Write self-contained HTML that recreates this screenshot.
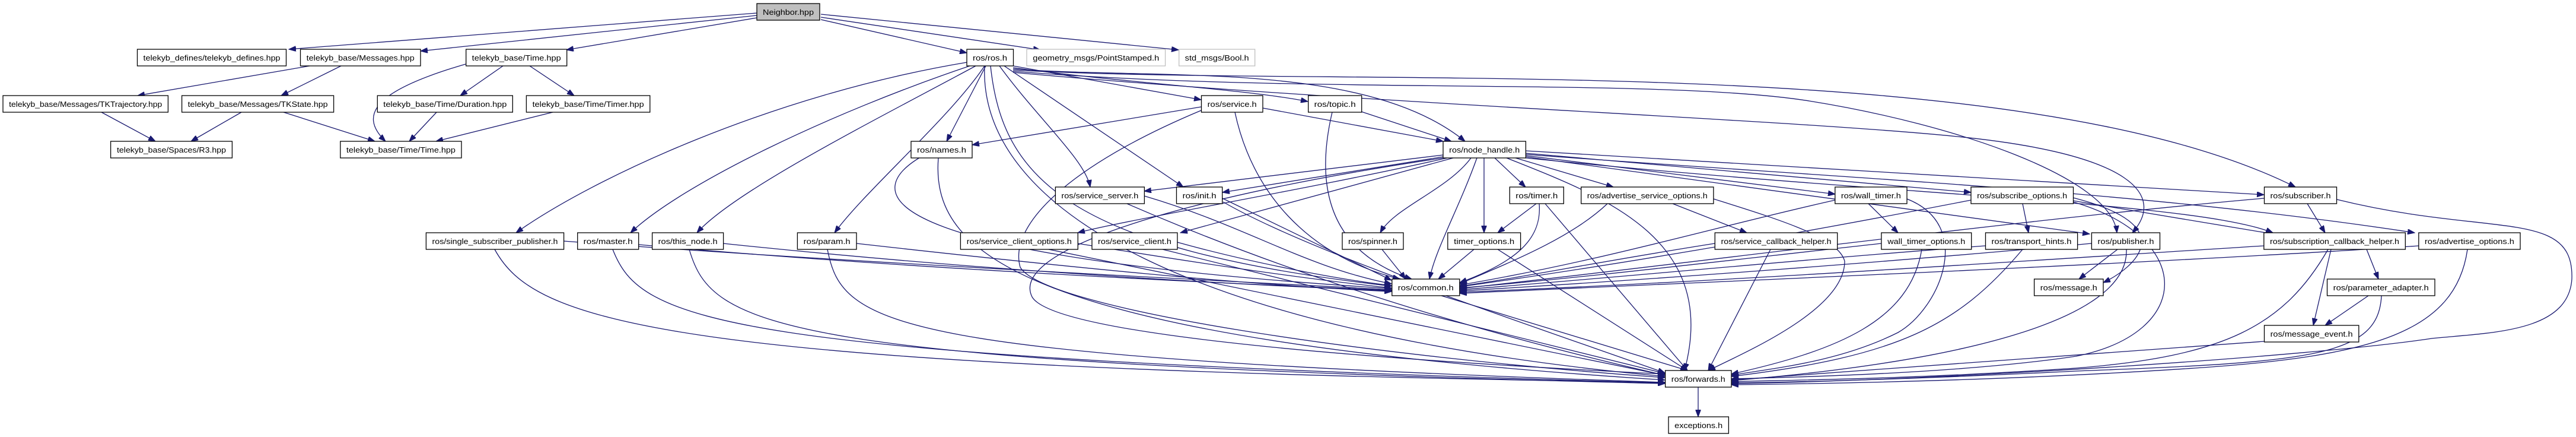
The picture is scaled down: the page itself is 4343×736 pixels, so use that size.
<!DOCTYPE html>
<html><head><meta charset="utf-8"><style>
html,body{margin:0;padding:0;background:#fff;}
svg{display:block;}
text{font-family:"Liberation Sans",sans-serif;font-size:13px;fill:#000;}
.n{fill:#fff;stroke:#000;stroke-width:1.3;}
.g{fill:#fff;stroke:#bfbfbf;stroke-width:1.3;}
.e{fill:none;stroke:#191970;stroke-width:1.3;marker-end:url(#a);}
</style></head><body>
<svg width="4343" height="736" viewBox="0 0 4343 736" xmlns="http://www.w3.org/2000/svg">
<defs><marker id="a" markerUnits="userSpaceOnUse" markerWidth="13" markerHeight="9" refX="12" refY="4.5" orient="auto"><path d="M0,0 L12,4.5 L0,9 z" fill="#191970" stroke="#191970"/></marker></defs>
<g>
<!-- Neighbor edges -->
<path class="e" d="M1276,22 L487,83"/>
<path class="e" d="M1276,26 L709,86"/>
<path class="e" d="M1276,30 L955,84"/>
<path class="e" d="M1384,33 L1630,89"/>
<path class="e" d="M1384,29 L1754,84"/>
<path class="e" d="M1384,24 L1987,84"/>
<!-- telekyb -->
<path class="e" d="M522,111 L232,161"/>
<path class="e" d="M575,111 L474,161"/>
<path class="e" d="M785,108 C640,150 600,190 650,238"/>
<path class="e" d="M848,111 L776,161"/>
<path class="e" d="M893,111 L968,161"/>
<path class="e" d="M171,189 L262,238"/>
<path class="e" d="M407,189 L322,238"/>
<path class="e" d="M478,189 L632,238"/>
<path class="e" d="M736,189 L690,238"/>
<path class="e" d="M932,189 L735,238"/>
<!-- ros.h -->
<path class="e" d="M1630,105 C1300,160 1000,300 870,392"/>
<path class="e" d="M1635,111 C1400,190 1150,310 1063,392"/>
<path class="e" d="M1645,111 C1480,200 1240,320 1175,392"/>
<path class="e" d="M1660,111 C1600,200 1460,320 1407,392"/>
<path class="e" d="M1662,111 L1596,238"/>
<path class="e" d="M1670,111 C1690,300 1800,420 2346,482"/>
<path class="e" d="M1685,111 C1750,200 1830,270 1838,315"/>
<path class="e" d="M1693,111 L1995,315"/>
<path class="e" d="M1708,111 L2025,168"/>
<path class="e" d="M1708,114 C1900,140 2100,150 2205,171"/>
<path class="e" d="M1708,116 C1950,135 2300,100 2470,238"/>
<path class="e" d="M1708,118 C2300,150 3400,80 3870,315"/>
<path class="e" d="M1708,120 C2200,160 2800,130 3050,170 C3300,210 3560,300 3569,392"/>
<path class="e" d="M1708,122 C2300,175 3000,200 3300,230 C3600,260 3650,330 3595,392"/>
<path class="e" d="M1660,111 C1650,350 2000,560 2807,634"/>
<!-- service, topic, names -->
<path class="e" d="M2025,180 L1639,244"/>
<path class="e" d="M2129,182 L2433,238"/>
<path class="e" d="M2082,189 C2110,320 2200,430 2360,470"/>
<path class="e" d="M2025,186 C1800,280 1700,380 1720,450 C1760,520 2300,600 2807,636"/>
<path class="e" d="M2295,188 L2447,238"/>
<path class="e" d="M2246,189 C2220,300 2230,420 2380,470"/>
<path class="e" d="M1560,260 C1450,320 1440,430 2346,486"/>
<path class="e" d="M1582,266 C1570,420 1700,570 2807,640"/>
<!-- node_handle -->
<path class="e" d="M2433,261 L1929,322"/>
<path class="e" d="M2433,264 L2061,324"/>
<path class="e" d="M2520,266 L2572,315"/>
<path class="e" d="M2555,266 L2720,315"/>
<path class="e" d="M2572,262 L3094,327"/>
<path class="e" d="M2572,258 L3323,324"/>
<path class="e" d="M2572,254 L3817,328"/>
<path class="e" d="M2572,260 C3100,300 3600,320 4071,392"/>
<path class="e" d="M2572,264 L3523,394"/>
<path class="e" d="M2572,266 C3200,330 3700,340 3832,392"/>
<path class="e" d="M2480,266 C2440,320 2350,350 2327,392"/>
<path class="e" d="M2502,266 L2502,392"/>
<path class="e" d="M2490,266 C2460,350 2420,420 2410,470"/>
<path class="e" d="M2440,266 C2200,320 1900,370 1817,392"/>
<path class="e" d="M2450,266 L1990,392"/>
<path class="e" d="M2540,266 C2700,330 2900,400 2840,624"/>
<path class="e" d="M2433,266 C2000,330 1700,420 1740,500 C1780,570 2400,610 2807,630"/>
<!-- row5 -->
<path class="e" d="M2590,343 L2525,392"/>
<path class="e" d="M2595,343 C2600,400 2560,440 2461,476"/>
<path class="e" d="M2605,343 L2845,624"/>
<path class="e" d="M2710,343 C2650,400 2550,440 2461,478"/>
<path class="e" d="M2820,343 L2945,392"/>
<path class="e" d="M2889,335 C3000,370 3100,400 3110,440 C3110,520 2950,590 2880,624"/>
<path class="e" d="M3150,343 L3200,392"/>
<path class="e" d="M3094,337 C2900,380 2700,440 2461,480"/>
<path class="e" d="M3215,335 C3330,380 3270,520 3200,560 C3100,610 2990,620 2919,632"/>
<path class="e" d="M3410,343 L3420,392"/>
<path class="e" d="M3323,337 C3000,400 2700,450 2461,483"/>
<path class="e" d="M3495,333 C3680,380 3600,450 3546,476"/>
<path class="e" d="M3495,338 L3832,394"/>
<path class="e" d="M3495,340 C3700,400 3700,560 3500,600 C3300,630 3000,636 2919,638"/>
<path class="e" d="M3890,343 L3920,392"/>
<path class="e" d="M3817,334 C3400,370 2800,450 2461,486"/>
<path class="e" d="M3940,336 C4200,400 4340,350 4336,470 C4330,560 4200,560 4100,570 C3900,600 3300,640 2919,646"/>
<path class="e" d="M2061,334 L2346,472"/>
<path class="e" d="M2062,340 C2200,420 2500,520 2807,628"/>
<path class="e" d="M1929,330 C2100,380 2200,450 2346,478"/>
<path class="e" d="M1900,343 C2100,430 2400,540 2807,632"/>
<!-- row6 -->
<path class="e" d="M950,406 C1400,440 2000,470 2346,488"/>
<path class="e" d="M834,420 C900,540 1100,620 2807,644"/>
<path class="e" d="M1077,412 C1500,450 2000,475 2346,489"/>
<path class="e" d="M1033,420 C1080,540 1200,600 2807,645"/>
<path class="e" d="M1219,410 C1600,450 2000,476 2346,490"/>
<path class="e" d="M1162,420 C1200,550 1300,610 2807,646"/>
<path class="e" d="M1444,410 C1800,450 2100,480 2346,491"/>
<path class="e" d="M1395,420 C1420,550 1500,600 2807,644"/>
<path class="e" d="M1817,410 C2000,440 2200,470 2346,485"/>
<path class="e" d="M1768,420 L2807,632"/>
<path class="e" d="M1985,408 C2100,440 2250,470 2346,481"/>
<path class="e" d="M1960,420 L2807,629"/>
<path class="e" d="M2330,420 L2370,470"/>
<path class="e" d="M2485,420 L2425,470"/>
<path class="e" d="M2525,420 L2845,624"/>
<path class="e" d="M2891,410 C2700,440 2550,470 2461,482"/>
<path class="e" d="M2985,420 L2880,624"/>
<path class="e" d="M3172,410 C2900,440 2650,470 2461,485"/>
<path class="e" d="M3240,420 C3220,540 3100,590 2919,630"/>
<path class="e" d="M3347,414 C3000,440 2700,470 2461,488"/>
<path class="e" d="M3410,420 C3300,550 3200,600 2919,634"/>
<path class="e" d="M3526,410 C3200,440 2800,470 2461,490"/>
<path class="e" d="M3570,420 L3505,470"/>
<path class="e" d="M3585,420 C3590,540 3300,610 2919,641"/>
<path class="e" d="M3817,414 C3400,440 2900,475 2461,492"/>
<path class="e" d="M3990,420 L4010,470"/>
<path class="e" d="M3930,420 L3900,548"/>
<path class="e" d="M3925,420 C3850,550 3750,600 3500,620 C3200,640 3000,640 2919,643"/>
<path class="e" d="M4078,414 C3700,440 3000,470 2461,494"/>
<path class="e" d="M4160,420 C4140,560 4000,600 3700,620 C3400,640 3100,646 2919,648"/>
<!-- lower -->
<path class="e" d="M3993,498 L3920,548"/>
<path class="e" d="M4015,498 C4010,600 3900,610 3500,625 C3200,640 3000,644 2919,645"/>
<path class="e" d="M3817,575 L2919,640"/>
<path class="e" d="M2430,498 L2845,624"/>
<path class="e" d="M2863,652 L2863,702"/>
</g>
<g>
<rect x="1276" y="6" width="106" height="28" fill="#bfbfbf" stroke="#000" stroke-width="1.3"/>
<text x="1329" y="25" text-anchor="middle" textLength="86" lengthAdjust="spacingAndGlyphs">Neighbor.hpp</text>

<rect class="n" x="231.5" y="83" width="251" height="28"/><text x="357" y="102" text-anchor="middle" textLength="231" lengthAdjust="spacingAndGlyphs">telekyb_defines/telekyb_defines.hpp</text>
<rect class="n" x="506.5" y="83" width="202.5" height="28"/><text x="607.7" y="102" text-anchor="middle" textLength="182" lengthAdjust="spacingAndGlyphs">telekyb_base/Messages.hpp</text>
<rect class="n" x="785.7" y="83" width="170" height="28"/><text x="870.7" y="102" text-anchor="middle" textLength="150" lengthAdjust="spacingAndGlyphs">telekyb_base/Time.hpp</text>
<rect class="n" x="1630" y="83" width="78.5" height="28"/><text x="1669" y="102" text-anchor="middle" textLength="58" lengthAdjust="spacingAndGlyphs">ros/ros.h</text>
<rect class="g" x="1731" y="83" width="233.6" height="28"/><text x="1847.8" y="102" text-anchor="middle" textLength="213" lengthAdjust="spacingAndGlyphs">geometry_msgs/PointStamped.h</text>
<rect class="g" x="1987.7" y="83" width="128" height="28"/><text x="2051.7" y="102" text-anchor="middle" textLength="108" lengthAdjust="spacingAndGlyphs">std_msgs/Bool.h</text>

<rect class="n" x="5" y="161" width="278.4" height="28"/><text x="144.2" y="180" text-anchor="middle" textLength="258" lengthAdjust="spacingAndGlyphs">telekyb_base/Messages/TKTrajectory.hpp</text>
<rect class="n" x="306.6" y="161" width="256" height="28"/><text x="434.6" y="180" text-anchor="middle" textLength="236" lengthAdjust="spacingAndGlyphs">telekyb_base/Messages/TKState.hpp</text>
<rect class="n" x="636.3" y="161" width="228" height="28"/><text x="750.3" y="180" text-anchor="middle" textLength="208" lengthAdjust="spacingAndGlyphs">telekyb_base/Time/Duration.hpp</text>
<rect class="n" x="887.4" y="161" width="208.4" height="28"/><text x="991.6" y="180" text-anchor="middle" textLength="188" lengthAdjust="spacingAndGlyphs">telekyb_base/Time/Timer.hpp</text>
<rect class="n" x="2025.5" y="161" width="103.5" height="28"/><text x="2077.2" y="180" text-anchor="middle" textLength="83" lengthAdjust="spacingAndGlyphs">ros/service.h</text>
<rect class="n" x="2205.7" y="161" width="90" height="28"/><text x="2250.7" y="180" text-anchor="middle" textLength="70" lengthAdjust="spacingAndGlyphs">ros/topic.h</text>

<rect class="n" x="186.6" y="238" width="204.8" height="28"/><text x="289" y="257" text-anchor="middle" textLength="184" lengthAdjust="spacingAndGlyphs">telekyb_base/Spaces/R3.hpp</text>
<rect class="n" x="573.8" y="238" width="204.2" height="28"/><text x="675.9" y="257" text-anchor="middle" textLength="184" lengthAdjust="spacingAndGlyphs">telekyb_base/Time/Time.hpp</text>
<rect class="n" x="1536" y="238" width="103" height="28"/><text x="1587.5" y="257" text-anchor="middle" textLength="83" lengthAdjust="spacingAndGlyphs">ros/names.h</text>
<rect class="n" x="2433" y="238" width="139.4" height="28"/><text x="2502.7" y="257" text-anchor="middle" textLength="119" lengthAdjust="spacingAndGlyphs">ros/node_handle.h</text>

<rect class="n" x="1779.4" y="315" width="150" height="28"/><text x="1854.4" y="334" text-anchor="middle" textLength="130" lengthAdjust="spacingAndGlyphs">ros/service_server.h</text>
<rect class="n" x="1983.5" y="315" width="77.2" height="28"/><text x="2022.1" y="334" text-anchor="middle" textLength="57" lengthAdjust="spacingAndGlyphs">ros/init.h</text>
<rect class="n" x="2545.3" y="315" width="91" height="28"/><text x="2590.8" y="334" text-anchor="middle" textLength="71" lengthAdjust="spacingAndGlyphs">ros/timer.h</text>
<rect class="n" x="2665.7" y="315" width="223.2" height="28"/><text x="2777.3" y="334" text-anchor="middle" textLength="203" lengthAdjust="spacingAndGlyphs">ros/advertise_service_options.h</text>
<rect class="n" x="3093.8" y="315" width="121.2" height="28"/><text x="3154.4" y="334" text-anchor="middle" textLength="101" lengthAdjust="spacingAndGlyphs">ros/wall_timer.h</text>
<rect class="n" x="3323" y="315" width="172.5" height="28"/><text x="3409.2" y="334" text-anchor="middle" textLength="152" lengthAdjust="spacingAndGlyphs">ros/subscribe_options.h</text>
<rect class="n" x="3817.5" y="315" width="122" height="28"/><text x="3878.5" y="334" text-anchor="middle" textLength="102" lengthAdjust="spacingAndGlyphs">ros/subscriber.h</text>

<rect class="n" x="718.4" y="392" width="232.2" height="28"/><text x="834.5" y="411" text-anchor="middle" textLength="212" lengthAdjust="spacingAndGlyphs">ros/single_subscriber_publisher.h</text>
<rect class="n" x="973.7" y="392" width="103" height="28"/><text x="1025.2" y="411" text-anchor="middle" textLength="83" lengthAdjust="spacingAndGlyphs">ros/master.h</text>
<rect class="n" x="1099.6" y="392" width="120" height="28"/><text x="1159.6" y="411" text-anchor="middle" textLength="100" lengthAdjust="spacingAndGlyphs">ros/this_node.h</text>
<rect class="n" x="1344.4" y="392" width="99.6" height="28"/><text x="1394.2" y="411" text-anchor="middle" textLength="79" lengthAdjust="spacingAndGlyphs">ros/param.h</text>
<rect class="n" x="1619.4" y="392" width="197.9" height="28"/><text x="1718.3" y="411" text-anchor="middle" textLength="177" lengthAdjust="spacingAndGlyphs">ros/service_client_options.h</text>
<rect class="n" x="1841" y="392" width="144" height="28"/><text x="1913" y="411" text-anchor="middle" textLength="124" lengthAdjust="spacingAndGlyphs">ros/service_client.h</text>
<rect class="n" x="2263" y="392" width="103" height="28"/><text x="2314.5" y="411" text-anchor="middle" textLength="83" lengthAdjust="spacingAndGlyphs">ros/spinner.h</text>
<rect class="n" x="2440.8" y="392" width="122.8" height="28"/><text x="2502.2" y="411" text-anchor="middle" textLength="102" lengthAdjust="spacingAndGlyphs">timer_options.h</text>
<rect class="n" x="2891.3" y="392" width="206.4" height="28"/><text x="2994.5" y="411" text-anchor="middle" textLength="186" lengthAdjust="spacingAndGlyphs">ros/service_callback_helper.h</text>
<rect class="n" x="3171.9" y="392" width="151.8" height="28"/><text x="3247.8" y="411" text-anchor="middle" textLength="131" lengthAdjust="spacingAndGlyphs">wall_timer_options.h</text>
<rect class="n" x="3347.5" y="392" width="155.1" height="28"/><text x="3425" y="411" text-anchor="middle" textLength="135" lengthAdjust="spacingAndGlyphs">ros/transport_hints.h</text>
<rect class="n" x="3526.4" y="392" width="115.1" height="28"/><text x="3584" y="411" text-anchor="middle" textLength="95" lengthAdjust="spacingAndGlyphs">ros/publisher.h</text>
<rect class="n" x="3816.8" y="392" width="238.5" height="28"/><text x="3936" y="411" text-anchor="middle" textLength="218" lengthAdjust="spacingAndGlyphs">ros/subscription_callback_helper.h</text>
<rect class="n" x="4077.8" y="392" width="171.2" height="28"/><text x="4163.4" y="411" text-anchor="middle" textLength="151" lengthAdjust="spacingAndGlyphs">ros/advertise_options.h</text>

<rect class="n" x="2346.8" y="470" width="114" height="28"/><text x="2403.8" y="489" text-anchor="middle" textLength="94" lengthAdjust="spacingAndGlyphs">ros/common.h</text>
<rect class="n" x="3429.6" y="470" width="116.4" height="28"/><text x="3487.8" y="489" text-anchor="middle" textLength="96" lengthAdjust="spacingAndGlyphs">ros/message.h</text>
<rect class="n" x="3923.5" y="470" width="181.5" height="28"/><text x="4014.2" y="489" text-anchor="middle" textLength="161" lengthAdjust="spacingAndGlyphs">ros/parameter_adapter.h</text>

<rect class="n" x="3817.5" y="548" width="159.3" height="28"/><text x="3897.1" y="567" text-anchor="middle" textLength="139" lengthAdjust="spacingAndGlyphs">ros/message_event.h</text>

<rect class="n" x="2807.6" y="624" width="111.4" height="28"/><text x="2863.3" y="643" text-anchor="middle" textLength="91" lengthAdjust="spacingAndGlyphs">ros/forwards.h</text>
<rect class="n" x="2813" y="702" width="101.4" height="28"/><text x="2863.7" y="721" text-anchor="middle" textLength="81" lengthAdjust="spacingAndGlyphs">exceptions.h</text>
</g>
</svg>
</body></html>
